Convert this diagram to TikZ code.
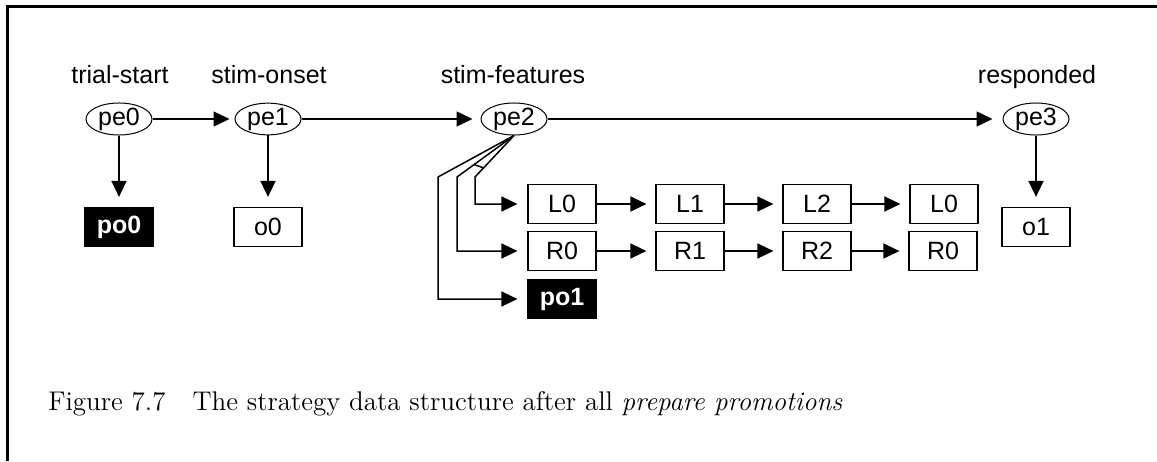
\documentclass[tikz,border=0pt]{standalone}
\usepackage{fontspec}
\setsansfont{Liberation Sans}
\usetikzlibrary{arrows.meta,shapes.geometric,calc}
\begin{document}
\begin{tikzpicture}[x=0.5pt,y=-0.5pt,
  diag/.style={font=\sffamily\fontsize{12.5}{14}\selectfont},
  ev/.style={diag, draw, ellipse, line width=0.5pt, minimum width=33pt, minimum height=15pt, inner sep=0pt},
  cell/.style={diag, draw, rectangle, line width=0.6pt, minimum width=34pt, minimum height=19.5pt, inner sep=0pt},
  pcell/.style={cell, fill=black, text=white, font=\sffamily\bfseries\fontsize{12.5}{14}\selectfont},
  lab/.style={diag, anchor=base},
  arr/.style={line width=0.75pt, -{Triangle[length=8pt,width=7.5pt]}},
]
\useasboundingbox (0,0) rectangle (1157,461);
% open frame on the left and top
\draw[line width=1.5pt, line join=miter] (7.5,461) -- (7.5,6.5) -- (1157,6.5);

% event labels
\node[lab] (l0) at (120,83) {trial-start};
\node[lab] (l1) at (269,83) {stim-onset};
\node[lab] (l2) at (513,83) {stim-features};
\node[lab] (l3) at (1037,83) {responded};

% event nodes
\node[ev] (pe0) at (119,119) {pe0};
\node[ev] (pe1) at (268,119) {pe1};
\node[ev] (pe2) at (514,119) {pe2};
\node[ev] (pe3) at (1036,119) {pe3};

% outcome boxes
\node[pcell] (po0) at (119,227) {po0};
\node[cell]  (o0)  at (268,227) {o0};
\node[cell]  (o1)  at (1036,227) {o1};

% feature chains
\node[cell] (L0)  at (562,204) {L0};
\node[cell] (L1)  at (690,204) {L1};
\node[cell] (L2)  at (817,204) {L2};
\node[cell] (L0b) at (944,204) {L0};
\node[cell] (R0)  at (562,251) {R0};
\node[cell] (R1)  at (690,251) {R1};
\node[cell] (R2)  at (817,251) {R2};
\node[cell] (R0b) at (943,251) {R0};
\node[pcell] (po1) at (562,299) {po1};

% main sequence
\draw[arr, shorten >=2.5pt] (pe0) -- (pe1);
\draw[arr, shorten >=4pt] (pe1) -- (pe2);
\draw[arr, shorten >=5pt] (pe2) -- (pe3);

% downward links
\draw[arr, shorten >=5pt] (pe0.south) -- (po0.north);
\draw[arr, shorten >=5pt] (pe1.south) -- (o0.north);
\draw[arr, shorten >=5pt] (pe3.south) -- (o1.north);

% chain links
\foreach \a/\b in {L0/L1, L1/L2, L2/L0b, R0/R1, R1/R2, R2/R0b}
  \draw[arr, shorten >=4.5pt] (\a) -- (\b);

% branches out of pe2
\coordinate (b1) at (438,177);
\coordinate (b2) at (457,177);
\coordinate (b3) at (475,177);
\draw[arr, line join=miter, shorten >=5pt] (pe2.south) -- (b1) |- (po1.west);
\draw[arr, line join=miter, shorten >=5pt] (pe2.south) -- (b2) |- (R0.west);
\draw[arr, line join=miter, shorten >=5pt] (pe2.south) -- (b3) |- (L0.west);
\draw[line width=0.75pt] ($(pe2.south)!0.7!(b2)$) -- ($(pe2.south)!0.78!(b3)$);

% caption
\node[anchor=base west, inner sep=0pt, font=\fontsize{13.5}{16}\selectfont] (cap) at (48,410)
  {Figure 7.7\quad The strategy data structure after all \textit{prepare promotions}};
\end{tikzpicture}
\end{document}
